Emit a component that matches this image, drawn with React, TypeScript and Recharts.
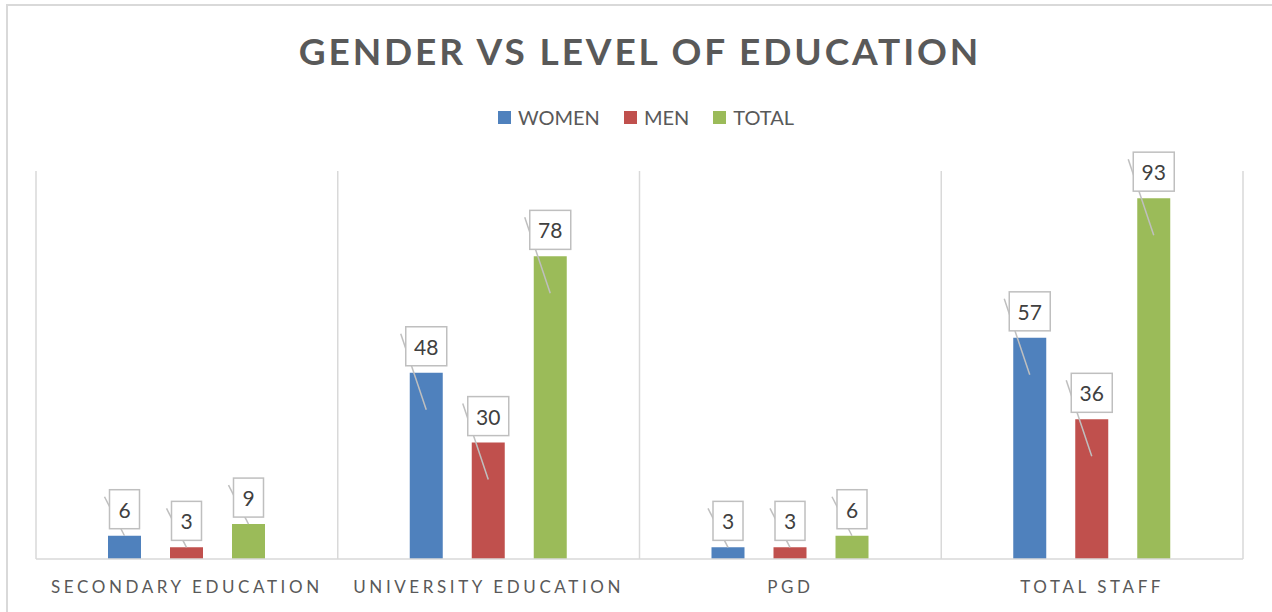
import { BarChart, Bar, XAxis, YAxis, CartesianGrid, LabelList } from "recharts";

const categories = ["SECONDARY EDUCATION", "UNIVERSITY EDUCATION", "PGD", "TOTAL STAFF"];
const women = [6, 48, 3, 57];
const men = [3, 30, 3, 36];
const total = [9, 78, 6, 93];

const series = [
  { key: "women", name: "WOMEN", color: "#4F81BD" },
  { key: "men", name: "MEN", color: "#C0504D" },
  { key: "total", name: "TOTAL", color: "#9BBB59" },
];

const data = categories.map((name, i) => ({
  name,
  women: women[i],
  men: men[i],
  total: total[i],
}));

const FONT = "Lato, 'Open Sans', sans-serif";
const GREY = "#d9d9d9";

const ValueLabel = (props: any) => {
  const { x, y, width, height, value } = props;
  const cx = x + width / 2;
  const w = String(value).length > 1 ? 41 : 30;
  const boxTop = y - 46;
  const endY = height > 60 ? y + 37 : y;
  return (
    <g>
      <line
        x1={cx - w / 2 - 5}
        y1={boxTop + 7}
        x2={cx}
        y2={endY}
        stroke="#bfbfbf"
        strokeWidth={1.5}
      />
      <rect
        x={cx - w / 2}
        y={boxTop}
        width={w}
        height={39}
        fill="#fff"
        stroke="#bfbfbf"
        strokeWidth={1.5}
      />
      <text
        x={cx}
        y={boxTop + 28}
        textAnchor="middle"
        fontSize={21}
        fontFamily={FONT}
        fill="#404040"
      >
        {value}
      </text>
    </g>
  );
};

const CategoryTick = (props: any) => {
  const { x, y, payload } = props;
  return (
    <text
      x={x}
      y={y + 26}
      textAnchor="middle"
      fontSize={17}
      fontFamily={FONT}
      letterSpacing={3.6}
      fill="#595959"
    >
      {payload.value}
    </text>
  );
};

const App = () => {
  return (
    <div
      style={{
        position: "absolute",
        left: 0,
        top: 0,
        width: 1272,
        height: 612,
        overflow: "hidden",
        background: "#fff",
      }}
    >
      <div
        style={{
          position: "absolute",
          left: 6,
          top: 4,
          width: 1400,
          height: 800,
          border: `2px solid ${GREY}`,
        }}
      />
      <div
        style={{
          position: "absolute",
          left: 4,
          top: 28,
          width: 1272,
          textAlign: "center",
          fontFamily: FONT,
          fontWeight: 700,
          fontSize: 37,
          letterSpacing: 2.9,
          color: "#595959",
        }}
      >
        GENDER VS LEVEL OF EDUCATION
      </div>
      <div
        style={{
          position: "absolute",
          left: 10,
          top: 105,
          width: 1272,
          display: "flex",
          justifyContent: "center",
          gap: 24,
          fontFamily: FONT,
          fontSize: 20,
          color: "#595959",
        }}
      >
        {series.map((s) => (
          <span key={s.key} style={{ display: "flex", alignItems: "center" }}>
            <span
              style={{
                display: "inline-block",
                width: 13,
                height: 13,
                marginRight: 7,
                backgroundColor: s.color,
              }}
            />
            {s.name}
          </span>
        ))}
      </div>
      <div style={{ position: "absolute", left: 0, top: 0 }}>
        <BarChart
          width={1272}
          height={612}
          data={data}
          margin={{ top: 171, right: 29, bottom: 13, left: 36 }}
          barSize={33}
          barGap={29}
        >
          <CartesianGrid
            horizontal={false}
            stroke={GREY}
            strokeWidth={1.5}
            verticalCoordinatesGenerator={({ offset }: any) =>
              [0, 1, 2, 3, 4].map((i) => offset.left + (i * offset.width) / 4)
            }
          />
          <XAxis
            dataKey="name"
            height={40}
            tickLine={false}
            axisLine={{ stroke: GREY, strokeWidth: 1.5 }}
            tick={<CategoryTick />}
            interval={0}
          />
          <YAxis hide domain={[0, 100]} />
          {series.map((s) => (
            <Bar
              key={s.key}
              dataKey={s.key}
              name={s.name}
              fill={s.color}
              isAnimationActive={false}
            >
              <LabelList dataKey={s.key} content={<ValueLabel />} />
            </Bar>
          ))}
        </BarChart>
      </div>
    </div>
  );
};

export default App;
